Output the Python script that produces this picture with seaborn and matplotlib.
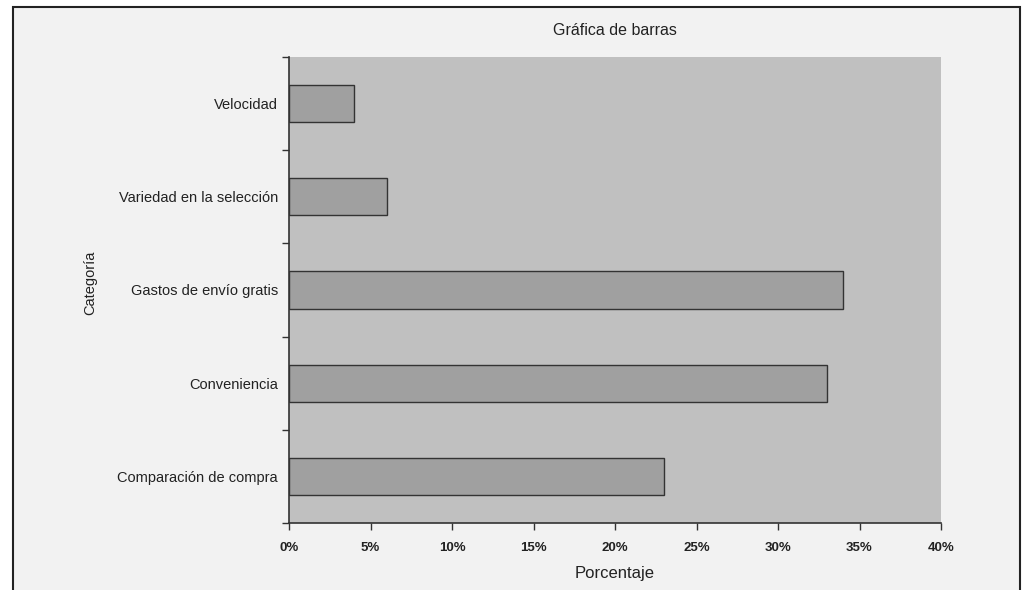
import matplotlib
matplotlib.use("Agg")
import matplotlib.pyplot as plt
from matplotlib.patches import Rectangle
from matplotlib.ticker import FuncFormatter, FixedLocator
import numpy as np
import pandas as pd
import seaborn as sns

# datos
categorias = ["Velocidad", "Variedad en la selección", "Gastos de envío gratis",
              "Conveniencia", "Comparación de compra"]
porcentajes = [4, 6, 34, 33, 23]

sns.set_theme(style="white")
plt.rcParams['font.family'] = ['Liberation Sans', 'DejaVu Sans']

df = pd.DataFrame({"Categoría": categorias, "Porcentaje": porcentajes})

fig = plt.figure(figsize=(10.23, 5.9), dpi=100, facecolor="white")
# marco exterior
fig.patches.append(Rectangle((12.5 / 1023, -0.05), (1020 - 12.5) / 1023, 1.05 - 6.5 / 590,
                             transform=fig.transFigure, facecolor="#f2f2f2",
                             edgecolor="#222222", linewidth=1.5, zorder=-10))

ax = fig.add_axes([289 / 1023, 1 - 523 / 590, (941 - 289) / 1023, (523 - 57) / 590])
ax.set_facecolor("#c0c0c0")

sns.barplot(data=df, x="Porcentaje", y="Categoría", orient="h", width=0.4,
            color="#a0a0a0", edgecolor="#333333", linewidth=1, saturation=1, ax=ax)

ax.set_xlim(0, 40)
ax.set_ylim(len(categorias) - 0.5, -0.5)
ax.set_xticks(np.arange(0, 41, 5))
ax.xaxis.set_major_formatter(FuncFormatter(lambda v, p: f"{v:.0f}%"))
ax.yaxis.set_minor_locator(FixedLocator(np.arange(-0.5, len(categorias), 1)))
ax.tick_params(axis="y", which="major", left=False, length=0, pad=8, labelsize=10.5,
               colors="#222222")
ax.tick_params(axis="y", which="minor", left=True, length=5, width=1, direction="out",
               color="#333333")
ax.tick_params(axis="x", which="major", bottom=True, length=5, width=1, direction="out",
               color="#333333", pad=9, labelsize=9.5, labelcolor="#222222")
for lbl in ax.get_xticklabels():
    lbl.set_fontweight("bold")

for s in ["top", "right"]:
    ax.spines[s].set_visible(False)
for s in ["left", "bottom"]:
    ax.spines[s].set_color("#333333")
    ax.spines[s].set_linewidth(1.2)

ax.set_title("Gráfica de barras", fontsize=11.5, color="#222222", pad=16)
ax.set_xlabel("Porcentaje", fontsize=12, color="#222222", labelpad=8)
ax.set_ylabel("")
fig.text(90 / 1023, 1 - 283 / 590, "Categoría", rotation=90, ha="center", va="center",
         fontsize=10.5, color="#222222")

fig.savefig("out.png", dpi=100, facecolor=fig.get_facecolor())
